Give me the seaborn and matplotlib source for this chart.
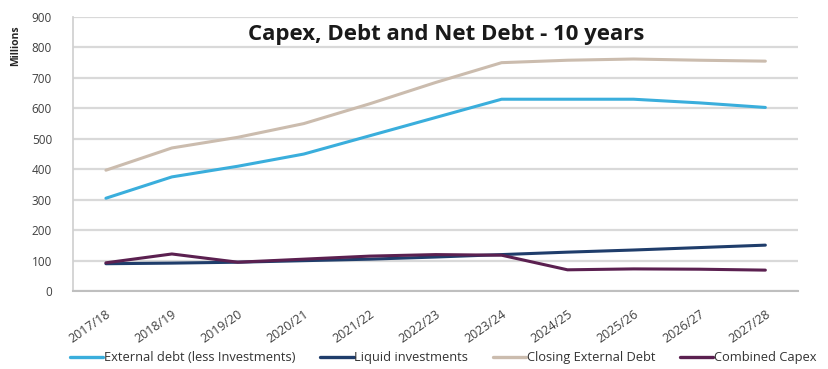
import matplotlib
matplotlib.use("Agg")
import matplotlib.pyplot as plt
import seaborn as sns
import pandas as pd

years = ["2017/18", "2018/19", "2019/20", "2020/21", "2021/22", "2022/23",
         "2023/24", "2024/25", "2025/26", "2026/27", "2027/28"]
external_debt = [305, 375, 410, 450, 510, 570, 630, 630, 630, 618, 603]
liquid_investments = [90, 92, 95, 100, 105, 112, 120, 128, 135, 143, 151]
closing_external_debt = [397, 470, 505, 550, 615, 685, 750, 758, 762, 758, 755]
combined_capex = [93, 122, 95, 105, 115, 120, 118, 70, 73, 72, 69]

series_names = ["External debt (less Investments)", "Liquid investments",
                "Closing External Debt", "Combined Capex"]
series_values = [external_debt, liquid_investments, closing_external_debt, combined_capex]
colors = ["#3aaedc", "#1f3d6b", "#cbbcae", "#5b2050"]

frames = [pd.DataFrame({"Year": years, "Value": v, "Series": n})
          for n, v in zip(series_names, series_values)]
df = pd.concat(frames, ignore_index=True)

sns.set_theme(style="white")
plt.rcParams["font.family"] = ["Open Sans", "DejaVu Sans"]

fig = plt.figure(figsize=(8.29, 3.69), dpi=100)
ax = fig.add_axes([0.088, 0.211, 0.875, 0.743])

sns.lineplot(data=df, x="Year", y="Value", hue="Series", hue_order=series_names,
             palette=colors, linewidth=2.2, sort=False, ax=ax, legend=False)

ax.set_xlim(-0.5, len(years) - 0.5)
ax.set_ylim(0, 900)
ax.set_yticks(range(0, 901, 100))
ax.set_xticks(range(len(years)))
ax.set_xticklabels(years, rotation=35, ha="right", rotation_mode="anchor",
                   fontsize=9, color="#404040")
ax.tick_params(axis="y", labelsize=8.5, colors="#404040", length=3, pad=12,
               color="#d0d0d0")
ax.tick_params(axis="x", length=0, pad=12)
# minor ticks at category boundaries on the x axis
ax.set_xticks([i - 0.5 for i in range(len(years) + 1)], minor=True)
ax.tick_params(axis="x", which="minor", length=4, color="#bfbfbf", width=1)

ax.grid(axis="y", color="#d9d9d9", linewidth=1.6)
ax.set_axisbelow(True)
for side in ["top", "right"]:
    ax.spines[side].set_visible(False)
ax.spines["left"].set_color("#d0d0d0")
ax.spines["bottom"].set_color("#bfbfbf")
ax.spines["bottom"].set_linewidth(1.5)

ax.set_xlabel("")
ax.set_ylabel("Millions", fontsize=7.5, fontweight="bold")
ax.yaxis.set_label_coords(-0.072, 0.894)

ax.text(0.515, 0.975, "Capex, Debt and Net Debt - 10 years", transform=ax.transAxes,
        ha="center", va="top", fontsize=16, fontweight="bold", color="#1a1a1a")

handles = [plt.Line2D([], [], color=c, linewidth=2.4) for c in colors]
fig.legend(handles, series_names, loc="center left", bbox_to_anchor=(0.07, 0.03),
           ncol=4, frameon=False, fontsize=9.3, handlelength=2.6, handletextpad=0.05,
           columnspacing=1.9, labelcolor="#333333")

fig.savefig("out.png", dpi=100)
